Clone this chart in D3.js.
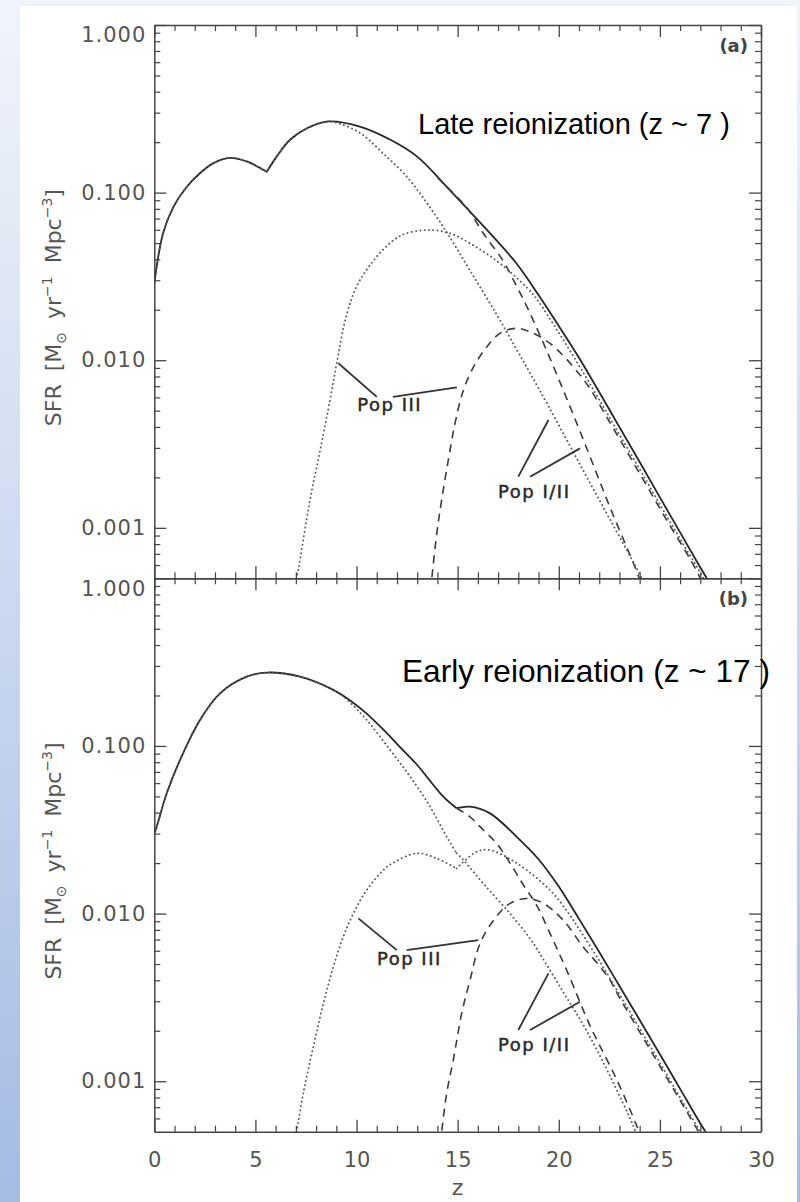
<!DOCTYPE html>
<html>
<head>
<meta charset="utf-8">
<script src="https://cdn.jsdelivr.net/npm/d3@7"></script>
<style>
  body { margin: 0; }
  svg { display: block; }
</style>
</head>
<body>
<div id="chart"></div>
<script>
// SFR readings, pairs of [z, SFR in Msun yr^-1 Mpc^-3]

// (a) late reionization
const late_total = [[0, 0.0288], [0.43, 0.057], [0.94, 0.082], [1.6, 0.108], [2.27, 0.131], [2.93, 0.150],
    [3.74, 0.161], [4.6, 0.153], [5.56, 0.133], [6.05, 0.164], [6.7, 0.206], [7.55, 0.242], [8.6, 0.266],
    [10.2, 0.247], [11.7, 0.206], [13.0, 0.164], [14.6, 0.104], [16.3, 0.0626], [17.9, 0.0379], [19, 0.0245],
    [20, 0.0160], [21, 0.01035], [22, 0.00646], [23, 0.00399], [24, 0.00247], [25, 0.00152], [26, 0.00094],
    [27, 0.00058], [27.5, 0.00046]];
const late_pop3_a = [[0, 0.0288], [0.43, 0.057], [0.94, 0.082], [1.6, 0.108], [2.27, 0.131], [2.93, 0.150],
    [3.74, 0.161], [4.6, 0.153], [5.56, 0.133], [6.05, 0.164], [6.7, 0.206], [7.55, 0.242], [8.6, 0.265],
    [9.2, 0.257], [10.2, 0.226], [11.3, 0.172], [12.5, 0.124], [13.5, 0.086], [14.5, 0.057], [15.6, 0.0345],
    [16.9, 0.019], [17.9, 0.0117], [18.6, 0.0083], [19.5, 0.0053], [21, 0.00245], [22.5, 0.00114],
    [24, 0.00053], [24.2, 0.00047]];
const late_pop3_b = [[7.0, 0.00047], [7.12, 0.00056], [7.7, 0.00147], [8.2, 0.0029], [8.69, 0.0058],
    [9.02, 0.0096], [9.5, 0.0185], [10.0, 0.0275], [10.6, 0.036], [11.3, 0.0455], [12.2, 0.0555],
    [13.47, 0.0598], [14.6, 0.0572], [15.9, 0.0475], [17.3, 0.0361], [18.7, 0.025], [19, 0.0224], [20, 0.0146],
    [21, 0.0093], [22, 0.00582], [23, 0.0036], [24, 0.00224], [25, 0.00138], [26, 0.00086], [27, 0.00054],
    [27.3, 0.00046]];
const late_pop12_a = [[14.0, 0.123], [14.62, 0.1037], [15.47, 0.0809], [16.26, 0.0574], [17.25, 0.0391],
    [17.94, 0.0273], [18.43, 0.0208], [19.07, 0.0141], [20.06, 0.0074], [21.2, 0.00339], [22.54, 0.00132],
    [23.88, 0.00054], [24.1, 0.00045]];
const late_pop12_b = [[13.65, 0.00042], [13.72, 0.0005], [13.97, 0.00093], [14.21, 0.00147], [14.54, 0.00254],
    [14.87, 0.0042], [15.28, 0.0066], [15.78, 0.0091], [16.44, 0.012], [17.1, 0.0145], [17.9, 0.0155],
    [18.74, 0.0145], [19.6, 0.0125], [20.3, 0.0104], [21.0, 0.0083], [21.5, 0.0069], [22.5, 0.00431],
    [23.5, 0.00268], [24.5, 0.00166], [25.5, 0.00103], [26.5, 0.00065], [27.2, 0.00045]];

// (b) early reionization
const early_total = [[0, 0.030], [0.12, 0.033], [0.61, 0.052], [1.27, 0.0824], [2.26, 0.143], [3.25, 0.206],
    [4.57, 0.259], [5.6, 0.274], [7.2, 0.259], [8.85, 0.216], [9.7, 0.186], [10.5, 0.156], [11.33, 0.125],
    [12.15, 0.0985], [12.98, 0.0775], [14.29, 0.0498], [14.95, 0.0425], [15.61, 0.0434], [16.6, 0.0396],
    [17.92, 0.0287], [19, 0.0211], [20, 0.0145], [21, 0.0093], [22, 0.0059], [23, 0.0037], [24, 0.00232],
    [25, 0.00145], [26, 0.0009], [27, 0.00056], [27.5, 0.00045]];
const early_pop3_a = [[0, 0.030], [0.12, 0.033], [0.61, 0.052], [1.27, 0.0824], [2.26, 0.143], [3.25, 0.206],
    [4.57, 0.259], [5.6, 0.274], [7.2, 0.259], [8.85, 0.216], [9.35, 0.197], [10.5, 0.143], [11.66, 0.0946],
    [12.65, 0.0656], [13.64, 0.0434], [14.46, 0.0287], [14.95, 0.0229], [15.28, 0.0209], [16.27, 0.0151],
    [17.59, 0.010], [18.58, 0.0071], [19.07, 0.00575], [20.23, 0.00339], [21.38, 0.002], [22.54, 0.00107],
    [23.69, 0.00054], [23.9, 0.00046]];
const early_pop3_b = [[6.95, 0.00042], [7.04, 0.0005], [7.37, 0.00085], [7.86, 0.0016], [8.36, 0.0029],
    [8.85, 0.0048], [9.35, 0.0073], [9.84, 0.0100], [10.5, 0.0138], [11.33, 0.0182], [11.66, 0.0196],
    [12.98, 0.0229], [13.97, 0.0213], [14.95, 0.0186], [15.94, 0.0234], [16.6, 0.0239], [17.92, 0.020],
    [19.57, 0.0138], [20.5, 0.010], [21, 0.0081], [22, 0.00525], [23, 0.0033], [24, 0.00207], [25, 0.00129],
    [26, 0.0008], [27, 0.0005], [27.2, 0.00046]];
const early_pop12_a = [[14.95, 0.0425], [15.61, 0.0378], [16.27, 0.0315], [16.93, 0.0262], [17.59, 0.020],
    [18.25, 0.0148], [18.91, 0.0112], [19.57, 0.0076], [20.4, 0.00457], [21.55, 0.00214], [22.87, 0.00102],
    [23.86, 0.00054], [24.1, 0.00045]];
const early_pop12_b = [[14.15, 0.00042], [14.21, 0.0005], [14.46, 0.00085], [14.79, 0.00135], [15.2, 0.00254],
    [15.61, 0.004], [16.1, 0.0066], [16.77, 0.0091], [17.59, 0.0115], [18.42, 0.0123], [19.24, 0.0115],
    [20.23, 0.0091], [21.22, 0.0063], [22, 0.0049], [22.54, 0.004], [23, 0.00316], [24, 0.00197],
    [25, 0.00123], [26, 0.00077], [27, 0.00048], [27.1, 0.00046]];

// kinks where the curves are not smooth
const late_cusps = [5.56];
const early_cusps = [14.95];

// axes
const z_domain = [0, 30];
const sfr_domain = [0.0005, 1];
const z_major = [0, 5, 10, 15, 20, 25, 30];
const sfr_major = [0.001, 0.01, 0.1, 1];
const y_title = ['SFR [M', '⊙', ' yr', '−1', ' Mpc', '−3', ']'];

// annotation anchors, in data units [z, SFR]
const late_note = {text: 'Late reionization (z ~ 7 )', at: [13.04, 0.224], size: 29};
const early_note = {text: 'Early reionization (z ~ 17 )', at: [12.25, 0.2415], size: 31.6};
const late_pop3_label = {text: 'Pop III', at: [10.04, 0.00498],
    lines: [[[9.1, 0.00959], [11.0, 0.00605]], [[11.8, 0.00605], [14.96, 0.00689]]]};
const early_pop3_label = {text: 'Pop III', at: [11.01, 0.00493],
    lines: [[[10.09, 0.00936], [11.99, 0.00605]], [[12.48, 0.00605], [16.02, 0.00695]]]};
const pop12_label = {text: 'Pop I/II', at: [17.0, 0.00151],
    lines: [[[18.0, 0.00202], [19.49, 0.0044]], [[18.58, 0.00202], [21.05, 0.00298]]]};

const W = 800, H = 1202;
const plot_left = 154.3, plot_right = 761;

const panels = [
    {tag: '(a)', top: 25, bottom: 578.3, cusps: late_cusps, note: late_note, labels: [late_pop3_label, pop12_label],
     solid: [late_total], dotted: [late_pop3_a, late_pop3_b], dashed: [late_pop12_a, late_pop12_b],
     x_labels: false},
    {tag: '(b)', top: 578.3, bottom: 1131.7, cusps: early_cusps, note: early_note, labels: [early_pop3_label, pop12_label],
     solid: [early_total], dotted: [early_pop3_a, early_pop3_b], dashed: [early_pop12_a, early_pop12_b],
     x_labels: true}
];

const svg = d3.select('#chart').append('svg')
    .attr('width', W)
    .attr('height', H);

// page background: bluish gradient with a white sheet
const grad = svg.append('defs').append('linearGradient')
    .attr('id', 'bg').attr('x1', 0).attr('y1', 0).attr('x2', 0).attr('y2', 1);
grad.append('stop').attr('offset', 0).attr('stop-color', '#f0f4fa');
grad.append('stop').attr('offset', 0.5).attr('stop-color', '#cbd8ef');
grad.append('stop').attr('offset', 1).attr('stop-color', '#a5bbe4');
svg.append('rect').attr('width', W).attr('height', H).attr('fill', 'url(#bg)');
svg.append('rect').attr('x', 20).attr('y', 6).attr('width', 777).attr('height', H - 6).attr('fill', '#fff');

const x = d3.scaleLinear().domain(z_domain).range([plot_left, plot_right]);
const z_minor = d3.range(z_domain[0], z_domain[1] + 1).filter(function (d) { return d % 5 !== 0; });
var sfr_minor = [];
[-4, -3, -2, -1].forEach(function (e) {
    d3.range(2, 10).forEach(function (m) {
        var v = m * Math.pow(10, e);
        if (v > sfr_domain[0] * 1.01 && v < sfr_domain[1]) sfr_minor.push(v);
    });
});

// split a series at its cusps so the spline keeps the corner
function pieces(data, cusps) {
    var out = [], cur = [];
    data.forEach(function (d) {
        cur.push(d);
        if (cusps.indexOf(d[0]) >= 0 && cur.length > 1) {
            out.push(cur);
            cur = [d];
        }
    });
    if (cur.length > 1) out.push(cur);
    return out;
}

function style_axis(g) {
    g.attr('color', '#444');
    g.select('.domain').attr('stroke-width', 1.5);
    g.selectAll('.tick line').attr('stroke-width', 1.3);
    g.selectAll('.tick text')
        .attr('fill', '#555')
        .style('font-family', 'DejaVu Sans')
        .style('font-size', '21px');
}

function minor_axis(g) {
    g.select('.domain').remove();
    g.attr('color', '#444');
    g.selectAll('.tick line').attr('stroke-width', 1.2);
}

panels.forEach(function (p, i) {
    var y = d3.scaleLog().domain(sfr_domain).range([p.bottom, p.top]);
    var g = svg.append('g').attr('class', 'panel');

    g.append('clipPath').attr('id', 'clip' + i)
        .append('rect')
        .attr('x', plot_left).attr('y', p.top)
        .attr('width', plot_right - plot_left).attr('height', p.bottom - p.top);

    var line = d3.line()
        .x(function (d) { return x(d[0]); })
        .y(function (d) { return y(d[1]); })
        .curve(d3.curveCatmullRom.alpha(0.5));

    var curves = g.append('g').attr('clip-path', 'url(#clip' + i + ')');
    function draw_set(set, cls, stroke, width, dash) {
        set.forEach(function (series) {
            pieces(series, p.cusps).forEach(function (seg) {
                var path = curves.append('path')
                    .attr('class', cls)
                    .attr('d', line(seg))
                    .attr('fill', 'none')
                    .attr('stroke', stroke)
                    .attr('stroke-width', width)
                    .attr('stroke-linejoin', 'round');
                if (dash) path.attr('stroke-dasharray', dash);
                if (cls === 'dotted') path.attr('stroke-linecap', 'round');
            });
        });
    }
    draw_set(p.solid, 'solid', '#262626', 1.8, null);
    draw_set(p.dashed, 'dashed', '#3c3c3c', 1.6, '8,6');
    draw_set(p.dotted, 'dotted', '#5a5a5a', 1.9, '0.1,4.2');

    // y axes
    var left = g.append('g')
        .attr('transform', 'translate(' + plot_left + ',0)')
        .call(d3.axisLeft(y).tickValues(sfr_major).tickSize(-12).tickSizeOuter(0).tickPadding(8)
            .tickFormat(d3.format('.3f')))
        .call(style_axis);
    left.selectAll('.tick text')
        .style('letter-spacing', '1px')
        .attr('transform', function (d) { return d === 1 ? 'translate(0,10)' : null; });
    g.append('g')
        .attr('transform', 'translate(' + plot_left + ',0)')
        .call(d3.axisLeft(y).tickValues(sfr_minor).tickSize(-6).tickFormat(''))
        .call(minor_axis);
    g.append('g')
        .attr('transform', 'translate(' + plot_right + ',0)')
        .call(d3.axisRight(y).tickValues(sfr_major).tickSize(-12).tickSizeOuter(0).tickFormat(''))
        .call(style_axis);
    g.append('g')
        .attr('transform', 'translate(' + plot_right + ',0)')
        .call(d3.axisRight(y).tickValues(sfr_minor).tickSize(-6).tickFormat(''))
        .call(minor_axis);

    // x axes
    g.append('g')
        .attr('transform', 'translate(0,' + p.top + ')')
        .call(d3.axisTop(x).tickValues(z_major).tickSize(-12).tickSizeOuter(0).tickFormat(''))
        .call(style_axis);
    g.append('g')
        .attr('transform', 'translate(0,' + p.top + ')')
        .call(d3.axisTop(x).tickValues(z_minor).tickSize(-6).tickFormat(''))
        .call(minor_axis);
    g.append('g')
        .attr('transform', 'translate(0,' + p.bottom + ')')
        .call(d3.axisBottom(x).tickValues(z_major).tickSize(-12).tickSizeOuter(0).tickPadding(20)
            .tickFormat(p.x_labels ? d3.format('d') : ''))
        .call(style_axis);
    g.append('g')
        .attr('transform', 'translate(0,' + p.bottom + ')')
        .call(d3.axisBottom(x).tickValues(z_minor).tickSize(-6).tickFormat(''))
        .call(minor_axis);

    // y title
    var cy = (p.top + p.bottom) / 2 + 6;
    var title = g.append('text')
        .attr('transform', 'translate(61,' + cy + ') rotate(-90)')
        .attr('text-anchor', 'middle')
        .attr('fill', '#555')
        .style('font-family', 'DejaVu Sans')
        .style('font-size', '22px')
        .style('word-spacing', '6px');
    var shifts = [0, 5, -5, -9, 9, -9, 9];
    y_title.forEach(function (t, k) {
        title.append('tspan')
            .attr('dy', shifts[k])
            .style('font-size', (k === 1 || k === 3 || k === 5) ? '14px' : null)
            .text(t);
    });

    // panel tag
    g.append('text')
        .attr('x', plot_right - 13)
        .attr('y', p.top + 27)
        .attr('text-anchor', 'end')
        .attr('fill', '#444')
        .style('font-family', 'DejaVu Sans')
        .style('font-size', '18px')
        .style('font-weight', 'bold')
        .text(p.tag);

    // big annotation
    g.append('text')
        .attr('x', x(p.note.at[0]))
        .attr('y', y(p.note.at[1]))
        .attr('fill', '#000')
        .style('font-family', 'Liberation Sans, Arial, sans-serif')
        .style('font-size', p.note.size + 'px')
        .text(p.note.text);

    // population labels with leader lines
    p.labels.forEach(function (lab) {
        g.append('text')
            .attr('x', x(lab.at[0]))
            .attr('y', y(lab.at[1]))
            .attr('fill', '#2a2a2a')
            .attr('stroke', '#2a2a2a')
            .attr('stroke-width', 0.5)
            .style('font-family', 'DejaVu Sans')
            .style('font-size', '18px')
            .style('letter-spacing', '1.5px')
            .text(lab.text);
        lab.lines.forEach(function (l) {
            g.append('line')
                .attr('x1', x(l[0][0])).attr('y1', y(l[0][1]))
                .attr('x2', x(l[1][0])).attr('y2', y(l[1][1]))
                .attr('stroke', '#333')
                .attr('stroke-width', 1.8);
        });
    });
});

// x title
svg.append('text')
    .attr('x', x(15))
    .attr('y', 1195)
    .attr('text-anchor', 'middle')
    .attr('fill', '#555')
    .style('font-family', 'DejaVu Sans')
    .style('font-size', '22px')
    .text('z');
</script>
</body>
</html>
